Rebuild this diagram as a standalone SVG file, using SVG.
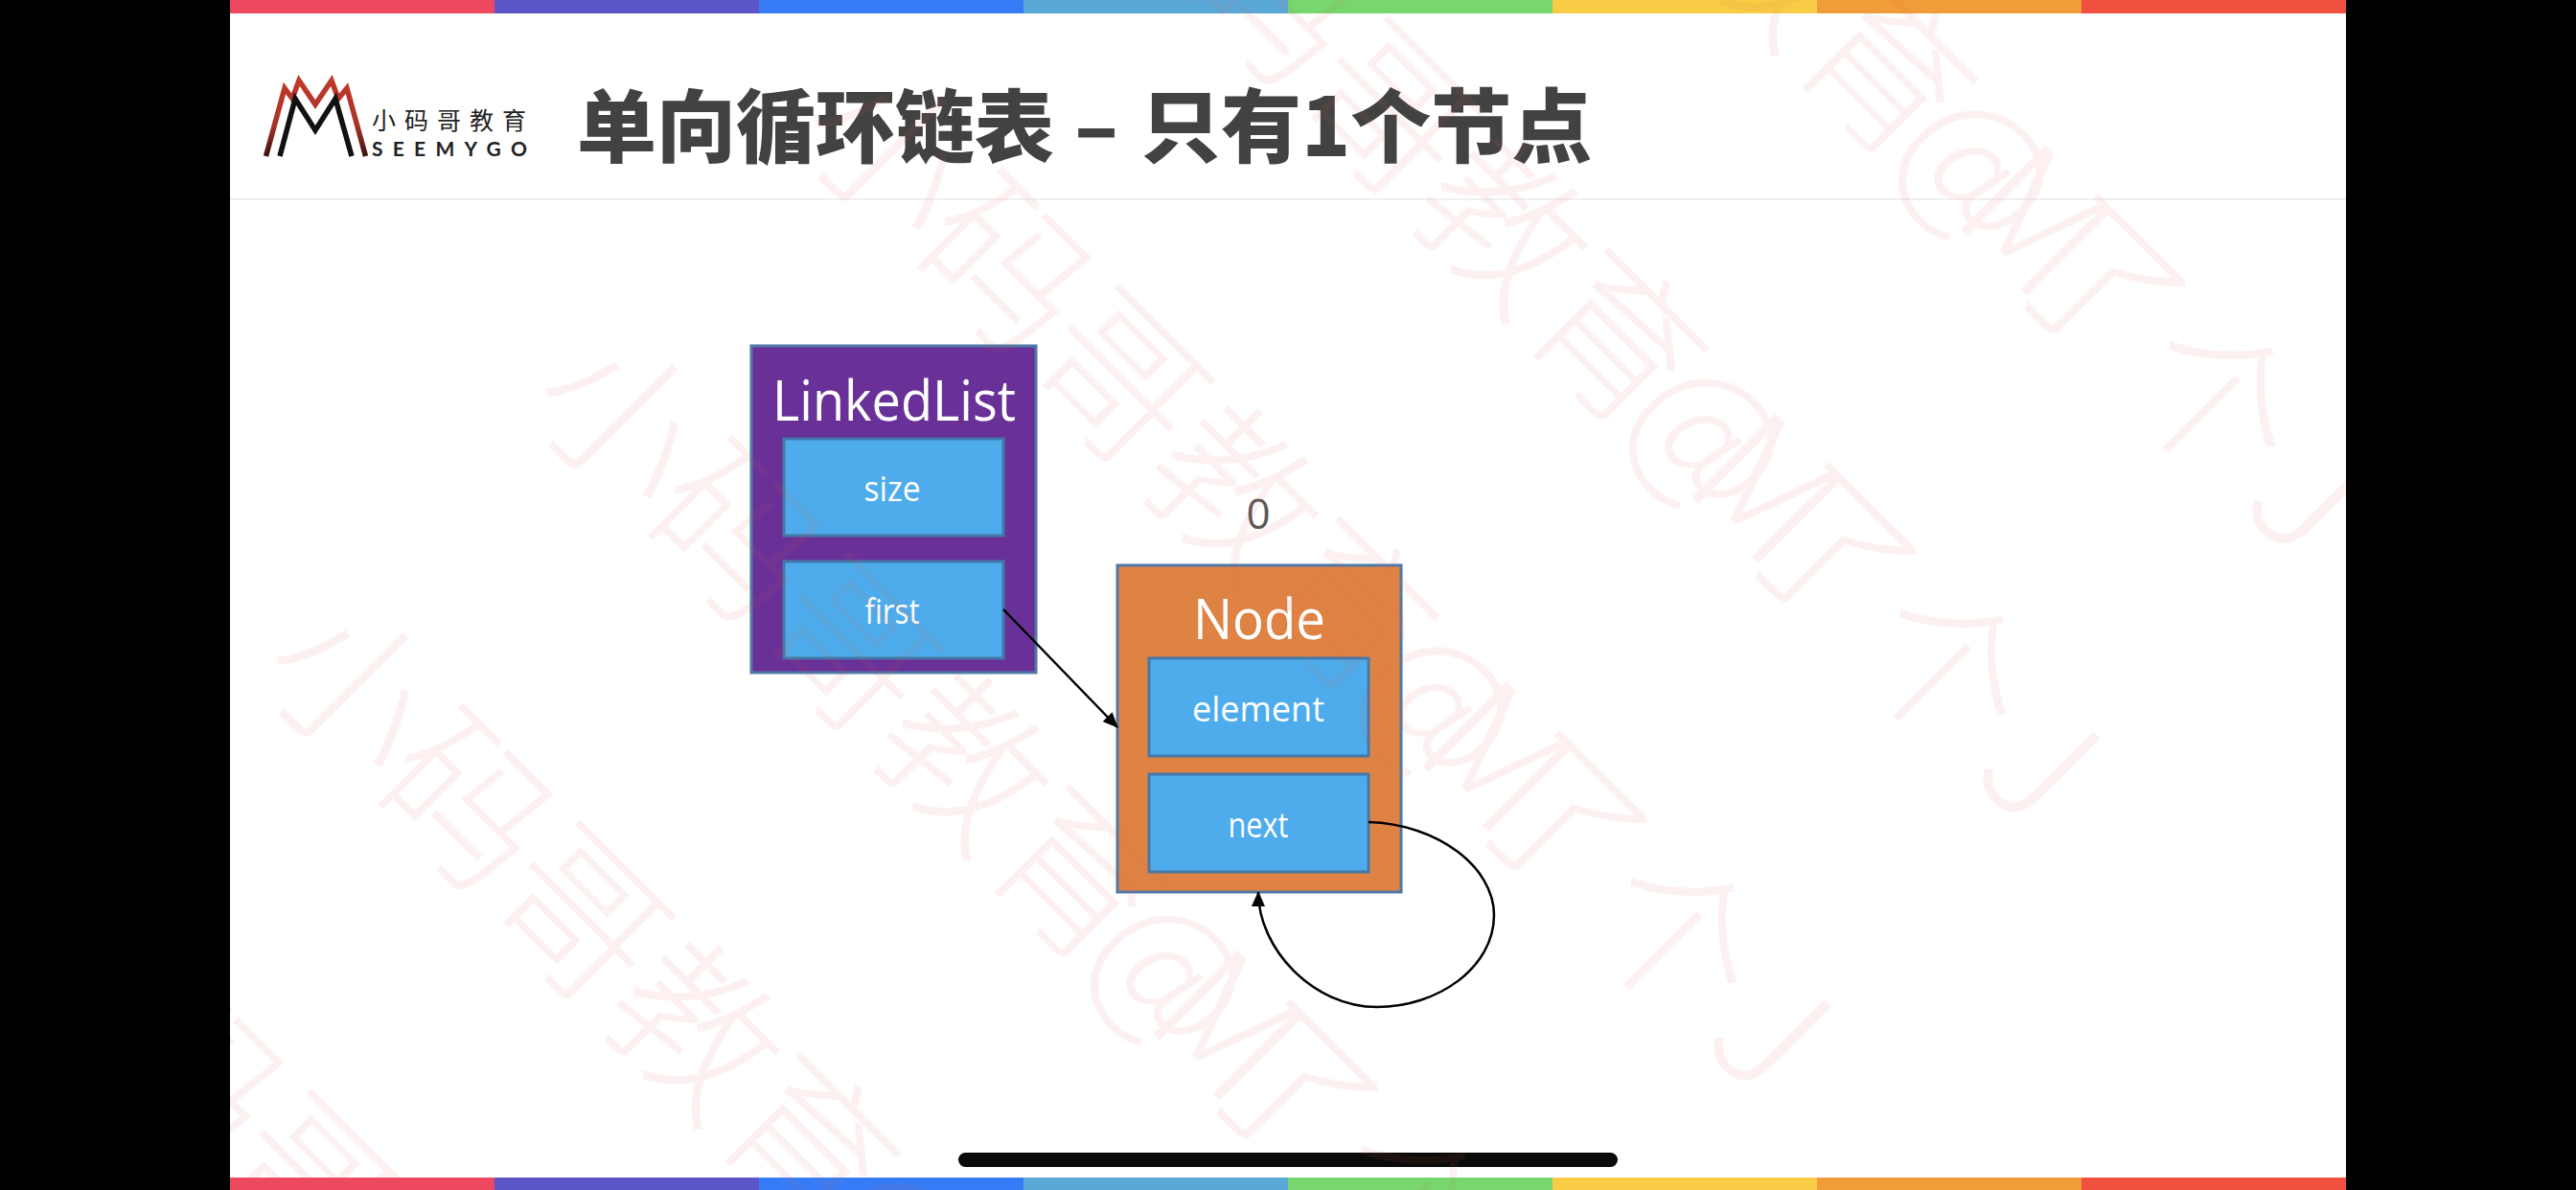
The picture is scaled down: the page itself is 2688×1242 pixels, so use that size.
<svg xmlns="http://www.w3.org/2000/svg" width="2688" height="1242" viewBox="0 0 2688 1242">
<style>
.box{stroke:#4f79a6;stroke-width:3}
.cell{fill:#4eacec;stroke:#4478a8;stroke-width:3}
.t{font-family:"Open Sans","Noto Sans",sans-serif;fill:#fff;text-anchor:middle}
.wm{font-family:"Noto Sans CJK SC",sans-serif;font-size:170px;font-weight:300;fill:#e0604c;opacity:.08}
.conn{fill:none;stroke:#000;stroke-width:2.5}
</style>
<defs>
<marker id="arr" markerUnits="userSpaceOnUse" markerWidth="16" markerHeight="14" refX="15" refY="7" orient="auto"><path d="M0,0L16,7L0,14Z" fill="#000"/></marker>
<clipPath id="slide"><rect x="240" y="0" width="2208" height="1242"/></clipPath>
<linearGradient id="red" x1="0" y1="0" x2="0" y2="1"><stop offset="0" stop-color="#c0392b"/><stop offset=".6" stop-color="#a83226"/><stop offset="1" stop-color="#3a1210"/></linearGradient>
<text id="w" class="wm" x="0 169 337 506 674 821 913 989 1160 1340">小码哥教育@M了个J</text>
</defs>
<rect width="2688" height="1242" fill="#000"/>
<rect x="240" width="2208" height="1242" fill="#fff"/>
<g id="bars">
<rect x="240" y="0" width="276" height="14" fill="#ee4860"/><rect x="516" y="0" width="276" height="14" fill="#5c55c8"/><rect x="792" y="0" width="276" height="14" fill="#377cf6"/><rect x="1068" y="0" width="276" height="14" fill="#5aa8d8"/><rect x="1344" y="0" width="276" height="14" fill="#77d670"/><rect x="1620" y="0" width="276" height="14" fill="#f8cd45"/><rect x="1896" y="0" width="276" height="14" fill="#f09c38"/><rect x="2172" y="0" width="276" height="14" fill="#ef5040"/>
<rect x="240" y="1229" width="276" height="13" fill="#ee4860"/><rect x="516" y="1229" width="276" height="13" fill="#5c55c8"/><rect x="792" y="1229" width="276" height="13" fill="#377cf6"/><rect x="1068" y="1229" width="276" height="13" fill="#5aa8d8"/><rect x="1344" y="1229" width="276" height="13" fill="#77d670"/><rect x="1620" y="1229" width="276" height="13" fill="#f8cd45"/><rect x="1896" y="1229" width="276" height="13" fill="#f09c38"/><rect x="2172" y="1229" width="276" height="13" fill="#ef5040"/>
</g>
<rect x="240" y="207" width="2208" height="2" fill="#f0f0f0"/>
<g id="logo">
<path d="M277.5,163L297,92L305,103L312,84L329,109L346,84L353,103L362,92L381.5,163" fill="none" stroke="url(#red)" stroke-width="5.5"/>
<path d="M292,163L308,103L329,136L350,103L367,163" fill="none" stroke="#111" stroke-width="5.5"/>
<text x="388" y="135" font-family="Noto Sans CJK SC,sans-serif" font-size="25" letter-spacing="9" fill="#222">小码哥教育</text>
<text x="388" y="163" font-family="Lato,sans-serif" font-size="21" font-weight="700" textLength="162" fill="#222">SEEMYGO</text>
</g>
<text id="title" y="163" font-family="Noto Sans CJK SC,sans-serif" font-weight="900" font-size="84" fill="#424242"><tspan x="602" font-size="83">单向循环链表</tspan><tspan x="1121">–</tspan><tspan x="1190">只有1个节点</tspan></text>
<g id="LinkedList">
<rect class="box" x="784" y="361" width="297" height="341" fill="#693198"/>
<text class="t" x="933" y="439" font-size="58" textLength="254" lengthAdjust="spacingAndGlyphs">LinkedList</text>
<rect class="cell" x="818" y="458" width="229" height="101"/>
<text class="t" x="931" y="523" font-size="36" textLength="59" lengthAdjust="spacingAndGlyphs">size</text>
<rect class="cell" x="818" y="586" width="229" height="101"/>
<text class="t" x="931" y="651" font-size="36" textLength="57" lengthAdjust="spacingAndGlyphs">first</text>
</g>
<g id="Node">
<text x="1313" y="552" font-family="Open Sans,sans-serif" font-size="44" fill="#595959" text-anchor="middle">0</text>
<rect class="box" x="1166" y="590" width="296" height="341" fill="#df8344"/>
<text class="t" x="1314" y="667" font-size="58" textLength="138" lengthAdjust="spacingAndGlyphs">Node</text>
<rect class="cell" x="1199" y="687" width="229" height="102"/>
<text class="t" x="1313" y="753" font-size="36" textLength="138" lengthAdjust="spacingAndGlyphs">element</text>
<rect class="cell" x="1199" y="808" width="229" height="102"/>
<text class="t" x="1313" y="874" font-size="36" textLength="63" lengthAdjust="spacingAndGlyphs">next</text>
</g>
<g id="connectors">
<path class="conn" d="M1047,636L1166,759" marker-end="url(#arr)"/>
<path class="conn" d="M1428,858C1500,860 1559,905 1559,955C1559,1010 1500,1051 1437,1051C1370,1051 1313,990 1313,931" marker-end="url(#arr)"/>
</g>
<rect id="pill" x="1000" y="1203" width="688" height="15" rx="7.5" fill="#0a0a0a"/>
<g id="watermark" clip-path="url(#slide)">
<use href="#w" transform="translate(264,701) rotate(45)"/>
<use href="#w" transform="translate(545,421) rotate(45)"/>
<use href="#w" transform="translate(826,141) rotate(45)"/>
<use href="#w" transform="translate(1107,-139) rotate(45)"/>
<use href="#w" transform="translate(1388,-419) rotate(45)"/>
<use href="#w" transform="translate(-17,981) rotate(45)"/>
</g>
</svg>
